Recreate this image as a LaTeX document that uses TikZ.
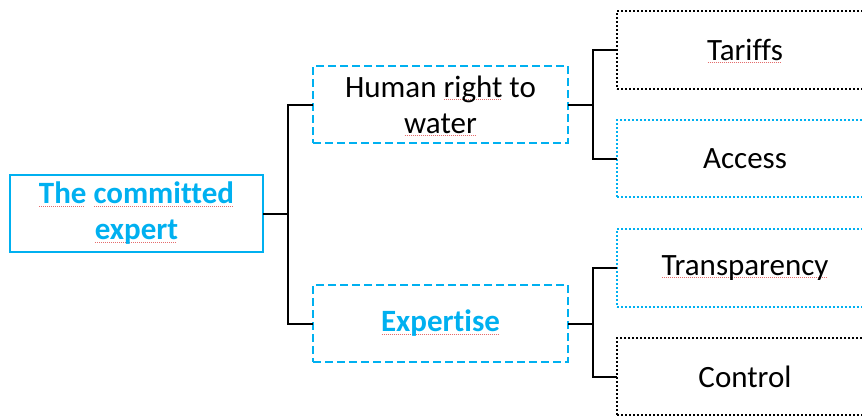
\documentclass[tikz,border=0pt]{standalone}
\usepackage{fontspec}
\setmainfont{Carlito}[Ligatures=NoCommon]
\definecolor{sky}{HTML}{00B0F0}
\definecolor{sqred}{HTML}{E46C6C}
% spell-check style red dotted line under a word
\newcommand\sqw[1]{\setbox0=\hbox{#1}\leavevmode\rlap{\textcolor{sqred}{\raisebox{-2.5pt}[0pt][0pt]{\hbox to \wd0{\leaders\hbox to 2pt{\hss\vrule width 1pt height 0.9pt depth 0pt\hss}\hfill}}}}\box0\relax}
\begin{document}
\begin{tikzpicture}[x=1pt,y=-1pt,
  every node/.style={inner sep=0pt,outer sep=0pt,align=center,
    font=\fontsize{31}{36}\selectfont},
  rootbox/.style={draw=sky,line width=2.5pt,minimum width=253pt,minimum height=77pt,
    font=\fontsize{31}{36}\selectfont\bfseries\color{sky}},
  midbox/.style={draw=sky,line width=2pt,dash pattern=on 8pt off 4pt,
    minimum width=255pt,minimum height=77pt},
  leafbox/.style={line width=2pt,dash pattern=on 2pt off 2pt,
    minimum width=256pt,minimum height=77pt},
  conn/.style={draw=black,line width=2pt}]
\useasboundingbox (0,0) rectangle (862,416);
\clip (0,0) rectangle (862,416);

% boxes
\node[rootbox] (root) at (136.5,213.5) {\sqw{The} \sqw{committed}\\\sqw{expert}};
\node[midbox] (hr) at (440.5,104.5) {Human \sqw{right} to\\\sqw{water}};
\node[midbox,font=\fontsize{31}{36}\selectfont\bfseries\color{sky}] (ex) at (440.5,323.5) {\sqw{Expertise}};
\node[leafbox,draw=black,minimum height=78pt] (tar) at (745,50) {\sqw{Tariffs}};
\node[leafbox,draw=sky] (acc) at (745,158.5) {Access};
\node[leafbox,draw=sky,minimum height=78pt] (tra) at (745,268) {\sqw{Transparency}};
\node[leafbox,draw=black] (con) at (745,376.5) {Control};

% junction points of the tree
\coordinate (j0) at (288,213.5);
\coordinate (j1) at (593,104.5);
\coordinate (j2) at (593,323.5);

% connectors
\draw[conn] (root.east) -- (j0);
\draw[conn] (hr.west) -| (j0) |- (ex.west);
\draw[conn] (hr.east) -- (j1);
\draw[conn] (tar.west) -| (j1) |- (acc.west);
\draw[conn] (ex.east) -- (j2);
\draw[conn] (tra.west) -| (j2) |- (con.west);
\end{tikzpicture}
\end{document}
